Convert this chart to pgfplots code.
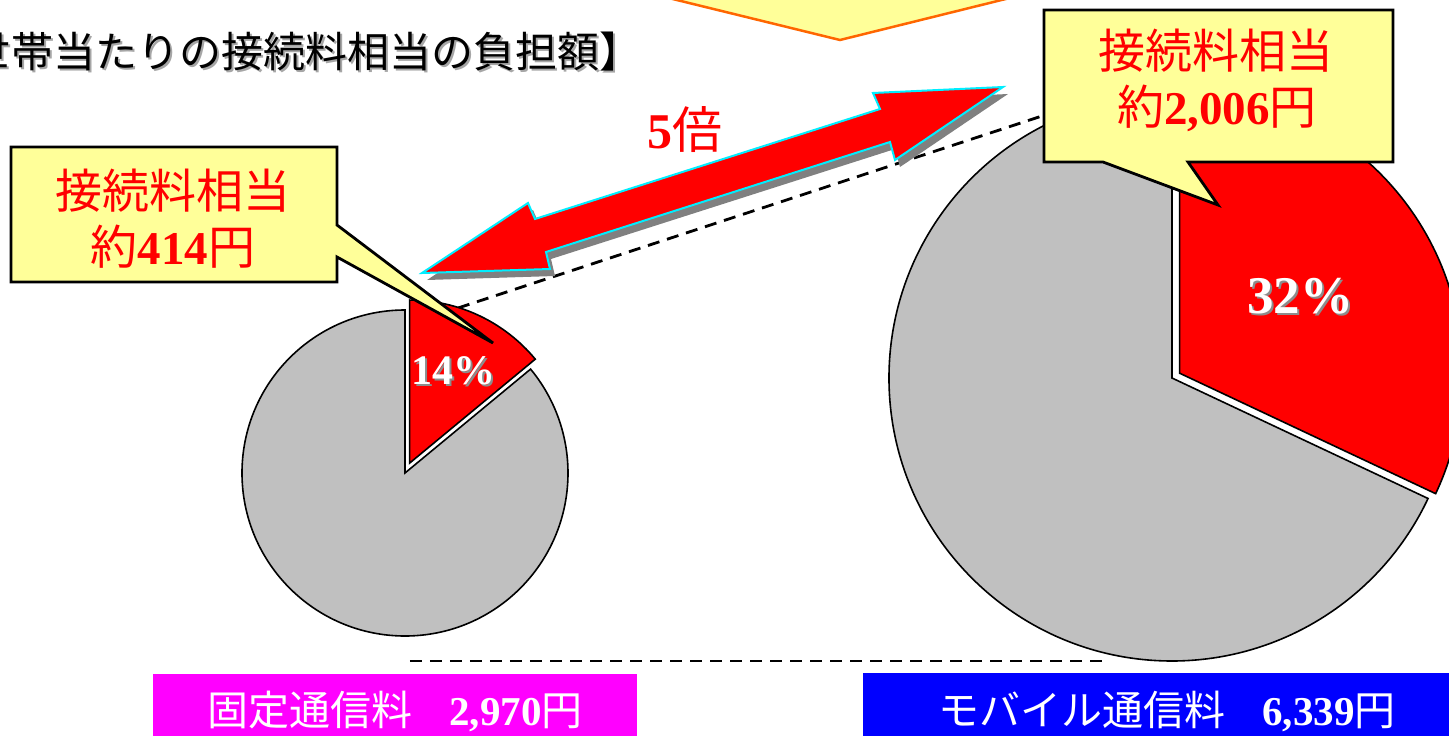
\documentclass[border=0pt]{standalone}
\usepackage{fontspec}
\setmainfont{Liberation Serif}
\newfontfamily\jp{Noto Sans CJK JP}
\usepackage{pgfplots}
\usepackage{pgfplotstable}
\pgfplotsset{compat=1.18}

\definecolor{pieRed}{HTML}{FF0000}
\definecolor{pieGray}{HTML}{C0C0C0}
\definecolor{noteYellow}{HTML}{FFFF99}
\definecolor{noteOrange}{HTML}{FF6600}
\definecolor{arrowCyan}{HTML}{00EEFF}
\definecolor{arrowShadow}{HTML}{808080}
\definecolor{fixedMag}{HTML}{FF00FF}
\definecolor{mobileBlue}{HTML}{0000FF}

% font size in px (1 axis unit = 1bp = 1 px of the picture)
\newcommand\px[1]{\fontsize{#1bp}{#1bp}\selectfont}

% pies: centre and radius in px, share of the interconnection charge (%),
% how far the slice is pulled out, distance of the % label from the centre
\pgfplotstableread{
name   cx    cy   r    share  explode  labr  labsize
fixed  405   473  163  14     11       113   42
mobile 1172  378  283  32     9        152   53
}\pies

\newcommand\drawpie[1]{%
  \pgfplotstablegetelem{#1}{cx}\of\pies\let\pcx\pgfplotsretval
  \pgfplotstablegetelem{#1}{cy}\of\pies\let\pcy\pgfplotsretval
  \pgfplotstablegetelem{#1}{r}\of\pies\let\pr\pgfplotsretval
  \pgfplotstablegetelem{#1}{share}\of\pies\let\ps\pgfplotsretval
  \pgfplotstablegetelem{#1}{explode}\of\pies\let\pe\pgfplotsretval
  \pgfplotstablegetelem{#1}{labr}\of\pies\let\pl\pgfplotsretval
  \pgfplotstablegetelem{#1}{labsize}\of\pies\let\pfs\pgfplotsretval
  \pgfmathsetmacro\pend{90-3.6*\ps}%
  \pgfmathsetmacro\pmid{90-1.8*\ps}%
  \pgfmathsetmacro\prest{\pend+360}%
  \fill[pieGray, draw=black, line width=1.6bp]
    (axis cs:\pcx,\pcy) -- ++(90:\pr bp)
    arc[start angle=90, end angle=\prest, radius=\pr bp] -- cycle;
  \fill[pieRed, draw=black, line width=1.6bp, line join=miter]
    (axis cs:\pcx,\pcy) ++(\pmid:\pe bp) -- ++(90:\pr bp)
    arc[start angle=90, end angle=\pend, radius=\pr bp] -- cycle;
  \node[text=black!45, font=\px{\pfs}\bfseries, xshift=2bp, yshift=-2bp]
    at ($(axis cs:\pcx,\pcy)+(\pmid:\pl bp)$) {\ps\%};
  \node[text=white, font=\px{\pfs}\bfseries]
    at ($(axis cs:\pcx,\pcy)+(\pmid:\pl bp)$) {\ps\%};
}
\usetikzlibrary{calc}

\begin{document}
\begin{tikzpicture}
\path[use as bounding box] (0,0) rectangle (1449bp,736bp);
\clip (0,0) rectangle (1449bp,736bp);
\begin{axis}[
    at={(0,0)}, anchor=south west,
    width=1449bp, height=736bp, scale only axis,
    hide axis, clip=false,
    xmin=0, xmax=1449, ymin=0, ymax=736, y dir=reverse,
  ]
% title
\node[anchor=east, inner sep=0, text=black!35, font=\px{42}\jp, xshift=2bp, yshift=-2bp]
  at (axis cs:11,52) {【1世};
\node[anchor=west, inner sep=0, text=black!35, font=\px{42}\jp, xshift=2bp, yshift=-2bp]
  at (axis cs:11,52) {帯当たりの接続料相当の負担額】};
\node[anchor=east, inner sep=0, font=\px{42}\jp] at (axis cs:11,52) {【1世};
\node[anchor=west, inner sep=0, font=\px{42}\jp] at (axis cs:11,52) {帯当たりの接続料相当の負担額】};

% callout cut off at the top
\filldraw[fill=noteYellow, draw=noteOrange, line width=2.5bp]
  (axis cs:636,-10) -- (axis cs:840,40) -- (axis cs:1042,-10) -- cycle;

% dashed guide lines
\draw[line width=2.8bp, dash pattern=on 12bp off 8bp]
  (axis cs:458,308) -- (axis cs:1045,115);
\draw[line width=2.8bp, dash pattern=on 12bp off 8bp]
  (axis cs:410,661) -- (axis cs:1108,661);

% double arrow with shadow
\fill[arrowShadow, xshift=5bp, yshift=-7bp]
  (axis cs:422,273) -- (axis cs:528,203) -- (axis cs:535,219) -- (axis cs:880,109)
  -- (axis cs:873,93) -- (axis cs:1003,87) -- (axis cs:895,160) -- (axis cs:890,142)
  -- (axis cs:546,252) -- (axis cs:550,269) -- cycle;
\filldraw[fill=pieRed, draw=arrowCyan, line width=2bp, line join=miter]
  (axis cs:422,273) -- (axis cs:528,203) -- (axis cs:535,219) -- (axis cs:880,109)
  -- (axis cs:873,93) -- (axis cs:1003,87) -- (axis cs:895,160) -- (axis cs:890,142)
  -- (axis cs:546,252) -- (axis cs:550,269) -- cycle;
\node[text=pieRed, font=\px{50}] at (axis cs:685,130) {\textbf{5}{\jp 倍}};

% the two pies
\pgfplotsextra{\drawpie{0}}
\pgfplotsextra{\drawpie{1}}

% callouts
\filldraw[fill=noteYellow, draw=black, line width=2.8bp, line join=miter]
  (axis cs:11,147) -- (axis cs:337,147) -- (axis cs:337,225) -- (axis cs:493,343)
  -- (axis cs:337,257) -- (axis cs:337,282) -- (axis cs:11,282) -- cycle;
\node[text=pieRed, font=\px{47}\jp] at (axis cs:173,191) {接続料相当};
\node[text=pieRed, font=\px{47}] at (axis cs:173,247) {{\jp 約}\textbf{414}{\jp 円}};

\filldraw[fill=noteYellow, draw=black, line width=2.8bp, line join=miter]
  (axis cs:1044,10) -- (axis cs:1393,10) -- (axis cs:1393,162) -- (axis cs:1188,162)
  -- (axis cs:1218,205) -- (axis cs:1103,162) -- (axis cs:1044,162) -- cycle;
\node[text=pieRed, font=\px{47}\jp] at (axis cs:1216,51) {接続料相当};
\node[text=pieRed, font=\px{47}] at (axis cs:1217,108) {{\jp 約}\textbf{2,006}{\jp 円}};

% category boxes
\fill[fixedMag] (axis cs:153,674) rectangle (axis cs:637,750);
\node[text=white, font=\px{41}] at (axis cs:395,711)
  {{\jp 固定通信料}\hspace{0.9em}\textbf{2,970}{\jp 円}};
\fill[mobileBlue] (axis cs:863,673) rectangle (axis cs:1460,750);
\node[text=white, font=\px{41}] at (axis cs:1167,711)
  {{\jp モバイル通信料}\hspace{0.9em}\textbf{6,339}{\jp 円}};
\end{axis}
\end{tikzpicture}
\end{document}
